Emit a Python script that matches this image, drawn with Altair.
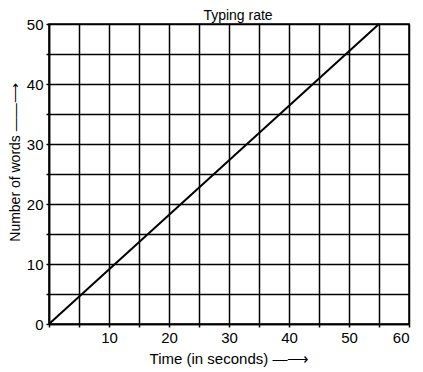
import altair as alt
import pandas as pd

time_s = [0, 55]
words = [0, 50]
x_ticks = list(range(0, 65, 5))
y_ticks = list(range(0, 55, 5))

df = pd.DataFrame({"time": time_s, "words": words})

FONT = "Liberation Sans"

chart = alt.Chart(df).mark_line(color="black", strokeWidth=2).encode(
    x=alt.X("time:Q", scale=alt.Scale(domain=[0, 60], nice=False),
            axis=alt.Axis(values=x_ticks,
                          labelExpr="datum.value % 10 == 0 && datum.value > 0 ? datum.label : ''",
                          title="Time (in seconds)   —⟶", titlePadding=6)),
    y=alt.Y("words:Q", scale=alt.Scale(domain=[0, 50], nice=False),
            axis=alt.Axis(values=y_ticks,
                          labelExpr="datum.value % 10 == 0 ? datum.label : ''",
                          title="Number of words ——⟶", titlePadding=4,
                          titleFontSize=14, titleY=138)),
).properties(
    width=360, height=300,
    title=alt.TitleParams("Typing rate", fontSize=14, font=FONT, fontWeight="normal",
                          color="black", offset=-6, dx=9),
    autosize=alt.AutoSizeParams(type="none"),
    padding={"left": 41, "top": 16, "right": 5, "bottom": 50},
).configure_axis(
    grid=True, gridColor="black", gridOpacity=1, gridWidth=1.5,
    domainColor="black", domainWidth=1.5,
    tickColor="black", tickSize=3, tickWidth=1.5,
    labelFont=FONT, labelFontSize=15, labelColor="black", labelPadding=3,
    titleFont=FONT, titleFontSize=15, titleFontWeight="normal", titleColor="black",
).configure_view(stroke="black", strokeWidth=1.5)

chart.save("out.html", embed_options={"renderer": "svg", "actions": False})
